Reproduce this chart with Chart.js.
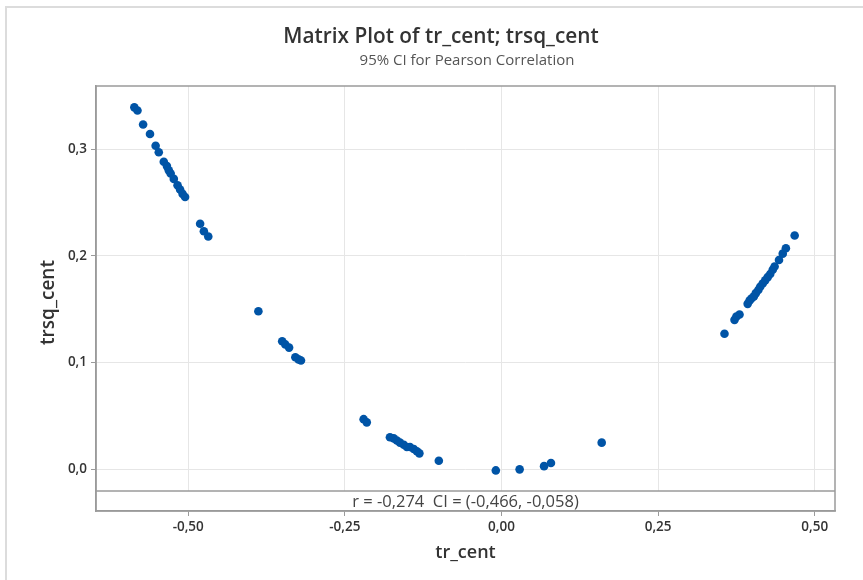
<!DOCTYPE html>
<html>
<head>
<meta charset="utf-8">
<script src="https://cdn.jsdelivr.net/npm/chart.js@4"></script>
<style>
  body { margin: 0; background: #fff; }
  #wrap { width: 863px; height: 580px; position: relative; }
</style>
</head>
<body>
<div id="wrap"><canvas id="plot"></canvas></div>
<script>
// values
const trCent = [
  -0.586, -0.581, -0.572, -0.561, -0.552, -0.547, -0.539, -0.534, -0.531, -0.528,
  -0.523, -0.517, -0.513, -0.509, -0.505, -0.481, -0.475, -0.468,
  -0.388, -0.350, -0.345, -0.339, -0.329, -0.324, -0.320,
  -0.220, -0.215, -0.178, -0.172, -0.167, -0.162, -0.156, -0.151, -0.146, -0.140,
  -0.135, -0.131, -0.100, -0.009, 0.029, 0.068, 0.079, 0.160,
  0.356, 0.372, 0.375, 0.380, 0.393, 0.396, 0.399, 0.403, 0.406, 0.410,
  0.413, 0.417, 0.421, 0.425, 0.429, 0.433, 0.436, 0.443, 0.449, 0.454, 0.468
];
const trsqCent = [
  0.339, 0.336, 0.323, 0.314, 0.303, 0.297, 0.288, 0.284, 0.280, 0.277,
  0.272, 0.266, 0.262, 0.258, 0.255, 0.230, 0.223, 0.218,
  0.148, 0.120, 0.117, 0.114, 0.105, 0.103, 0.102,
  0.047, 0.044, 0.030, 0.029, 0.027, 0.025, 0.023, 0.021, 0.021, 0.019,
  0.017, 0.015, 0.008, -0.001, 0.000, 0.003, 0.006, 0.025,
  0.127, 0.140, 0.143, 0.145, 0.155, 0.158, 0.160, 0.162, 0.165, 0.168,
  0.171, 0.174, 0.177, 0.180, 0.183, 0.187, 0.190, 0.196, 0.202, 0.207, 0.219
];
const xTicks = [-0.5, -0.25, 0, 0.25, 0.5];
const yTicks = [0, 0.1, 0.2, 0.3];
const titleText = 'Matrix Plot of tr_cent; trsq_cent';
const subtitleText = '95% CI for Pearson Correlation';
const corrText = 'r = -0,274  CI = (-0,466, -0,058)';
const xTitle = 'tr_cent';
const yTitle = 'trsq_cent';

const FONT = '"Open Sans", "Noto Sans", sans-serif';
const sepValue = -0.0203; // line between the plot and the r / CI strip

const points = trCent.map((x, i) => ({ x: x, y: trsqCent[i] }));

const decor = {
  id: 'decor',
  beforeDatasetsDraw(chart) {
    const ctx = chart.ctx, a = chart.chartArea;
    const sy = chart.scales.y.getPixelForValue(sepValue);
    ctx.save();
    // blank the strip under the separator, then the line
    ctx.fillStyle = '#fff';
    ctx.fillRect(a.left + 1, sy, a.right - a.left - 2, a.bottom - sy - 1);
    ctx.strokeStyle = '#9a9a9a';
    ctx.lineWidth = 1.5;
    ctx.beginPath();
    ctx.moveTo(a.left, sy);
    ctx.lineTo(a.right, sy);
    ctx.stroke();
    ctx.restore();
  },
  afterDraw(chart) {
    const ctx = chart.ctx, a = chart.chartArea;
    const sy = chart.scales.y.getPixelForValue(sepValue);
    ctx.save();
    // outer frame
    ctx.strokeStyle = '#dcdcdc';
    ctx.lineWidth = 2;
    ctx.beginPath();
    ctx.moveTo(6, 600);
    ctx.lineTo(6, 7);
    ctx.lineTo(900, 7);
    ctx.stroke();
    // plot border
    ctx.strokeStyle = '#9a9a9a';
    ctx.lineWidth = 1.5;
    ctx.strokeRect(a.left, a.top, a.right - a.left, a.bottom - a.top);

    ctx.textAlign = 'center';
    ctx.textBaseline = 'middle';
    ctx.fillStyle = '#333';
    ctx.font = '600 20.8px ' + FONT;
    ctx.fillText(titleText, 441, 37);
    ctx.fillStyle = '#555';
    ctx.font = '15px ' + FONT;
    ctx.fillText(subtitleText, 467, 61);

    ctx.fillStyle = '#444';
    ctx.font = '16.5px ' + FONT;
    ctx.fillText(corrText, (a.left + a.right) / 2, (sy + a.bottom) / 2 + 1);

    ctx.fillStyle = '#333';
    ctx.font = '600 18px ' + FONT;
    ctx.fillText(xTitle, (a.left + a.right) / 2, 553);
    ctx.translate(49, (a.top + a.bottom) / 2 + 4);
    ctx.rotate(-Math.PI / 2);
    ctx.font = '600 19px ' + FONT;
    ctx.fillText(yTitle, 0, 0);
    ctx.restore();
  }
};

new Chart(document.getElementById('plot'), {
  type: 'scatter',
  data: {
    datasets: [{
      data: points,
      backgroundColor: '#0054a6',
      borderColor: '#0054a6',
      pointRadius: 4.3,
      pointHoverRadius: 4.3,
      borderWidth: 0
    }]
  },
  options: {
    responsive: true,
    maintainAspectRatio: false,
    animation: false,
    layout: { padding: { top: 86, right: 28, left: 0, bottom: 0 } },
    plugins: { legend: { display: false }, tooltip: { enabled: false } },
    scales: {
      x: {
        type: 'linear',
        min: -0.6472,
        max: 0.5324,
        afterBuildTicks: s => { s.ticks = xTicks.map(v => ({ value: v })); },
        afterFit: s => { s.height = 69; },
        grid: { color: '#e6e6e6', lineWidth: 1, tickLength: 5, tickColor: '#9a9a9a' },
        border: { color: '#9a9a9a', width: 1.5 },
        ticks: {
          padding: 3,
          color: '#333',
          font: { family: FONT, size: 13.5, weight: '600' },
          callback: v => v.toFixed(2).replace('.', ',')
        }
      },
      y: {
        type: 'linear',
        min: -0.039,
        max: 0.359,
        afterBuildTicks: s => { s.ticks = yTicks.map(v => ({ value: v })); },
        afterFit: s => { s.width = 96; },
        grid: { color: '#e6e6e6', lineWidth: 1, tickLength: 5, tickColor: '#9a9a9a' },
        border: { color: '#9a9a9a', width: 1.5 },
        ticks: {
          padding: 4,
          color: '#333',
          font: { family: FONT, size: 13.5, weight: '600' },
          callback: v => v.toFixed(1).replace('.', ',')
        }
      }
    }
  },
  plugins: [decor]
});
</script>
</body>
</html>
